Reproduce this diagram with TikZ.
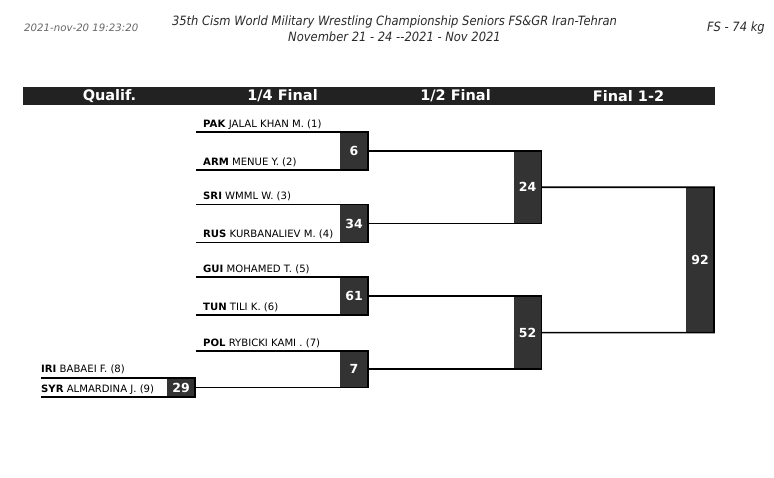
\documentclass[tikz,border=0pt]{standalone}
\usepackage{fontspec}
\setmainfont{DejaVu Sans}
\newfontfamily\condfont{DejaVu Sans}[FakeStretch=0.9]
\definecolor{boxgray}{HTML}{333333}
\definecolor{bargray}{HTML}{222222}
\definecolor{stampgray}{HTML}{666666}
\definecolor{titlecol}{HTML}{2A2A2A}
\begin{document}
\begin{tikzpicture}[x={(1pt,0pt)},y={(0pt,-1pt)},
  score/.style={fill=boxgray, text=white, font=\bfseries\fontsize{12.5}{12.5}\selectfont,
    minimum width=28pt, inner sep=0pt, outer sep=0pt},
  wire/.style={line width=1.6pt, black},
  entrant/.style={anchor=base west, inner sep=0pt, font=\fontsize{10.1}{11}\selectfont, text=black},
  headtxt/.style={text=white, font=\bfseries\fontsize{14.5}{15}\selectfont, inner sep=0pt},
  toptxt/.style={font=\condfont\itshape\fontsize{12.8}{16}\selectfont}]
\useasboundingbox (0,0) rectangle (774,478);

% top header
\node[anchor=west, text=stampgray, font=\itshape\fontsize{10.2}{12}\selectfont, inner sep=0pt] (stamp) at (24,28) {2021-nov-20 19:23:20};
\node[toptxt, align=center, text=titlecol] (title) at (394.5,29) {35th Cism World Military Wrestling Championship Seniors FS\&GR Iran-Tehran\\November 21 - 24 -{}-2021 - Nov 2021};
\node[toptxt, anchor=east, text=titlecol, inner sep=0pt] (cat) at (765,28) {FS - 74 kg};

% column header bar
\node[fill=bargray, minimum width=692pt, minimum height=18pt, inner sep=0pt] (bar) at (369,96) {};
\node[headtxt] (h1) at (109.5,96) {Qualif.};
\node[headtxt] (h2) at (282.5,96) {1/4 Final};
\node[headtxt] (h3) at (455.5,96) {1/2 Final};
\node[headtxt] (h4) at (628.5,96) {Final 1-2};

% score boxes
\node[score, minimum height=38pt] (m6) at (354,151) {6};
\node[score, minimum height=38pt] (m34) at (354,223.5) {34};
\node[score, minimum height=38pt] (m61) at (354,296) {61};
\node[score, minimum height=36.5pt] (m7) at (354,369.25) {7};
\node[score, minimum height=19pt] (m29) at (181,387.5) {29};
\node[score, minimum height=72.5pt] (m24) at (527.5,187.25) {24};
\node[score, minimum height=73.25pt] (m52) at (527.5,332.625) {52};
\node[score, minimum height=145.375pt] (m92) at (700,259.94) {92};

% entrants
\node[entrant] (e1) at (203,127.5) {\textbf{PAK} JALAL KHAN M. (1)};
\node[entrant] (e2) at (203,165.5) {\textbf{ARM} MENUE Y. (2)};
\node[entrant] (e3) at (203,200) {\textbf{SRI} WMML W. (3)};
\node[entrant] (e4) at (203,238) {\textbf{RUS} KURBANALIEV M. (4)};
\node[entrant] (e5) at (203,272.5) {\textbf{GUI} MOHAMED T. (5)};
\node[entrant] (e6) at (203,310.5) {\textbf{TUN} TILI K. (6)};
\node[entrant] (e7) at (203,346.5) {\textbf{POL} RYBICKI KAMI . (7)};
\node[entrant] (e8) at (41,373) {\textbf{IRI} BABAEI F. (8)};
\node[entrant] (e9) at (41,392) {\textbf{SYR} ALMARDINA J. (9)};

% line starts
\coordinate (s1) at (196,132);
\coordinate (s2) at (196,170);
\coordinate (s3) at (196,204.5);
\coordinate (s4) at (196,242.5);
\coordinate (s5) at (196,277);
\coordinate (s6) at (196,315);
\coordinate (s7) at (196,351);
\coordinate (s8) at (41,378);
\coordinate (s9) at (41,397);

% brackets
\draw[wire] (s1) -- (m6.north east) -- (m6.south east) -- (s2);
\draw[wire] (s3) -- (m34.north east) -- (m34.south east) -- (s4);
\draw[wire] (s5) -- (m61.north east) -- (m61.south east) -- (s6);
\draw[wire] (s8) -- (m29.north east) -- (m29.south east) -- (s9);
\draw[wire] (s7) -- (m7.north east) -- (m7.south east) -- (m29.east);
\draw[wire] (m6.east) -- (m24.north east) -- (m24.south east) -- (m34.east);
\draw[wire] (m61.east) -- (m52.north east) -- (m52.south east) -- (m7.east);
\draw[wire] (m24.east) -- (m92.north east) -- (m92.south east) -- (m52.east);
\end{tikzpicture}
\end{document}
